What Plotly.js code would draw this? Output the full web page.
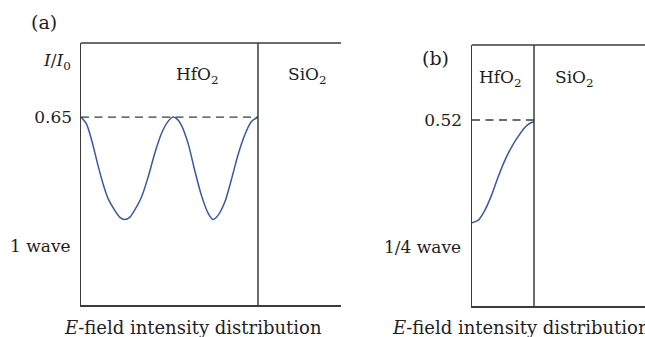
<!DOCTYPE html>
<html>
<head>
<meta charset="utf-8">
<script src="https://cdn.plot.ly/plotly-3.0.1.min.js"></script>
<style>html,body{margin:0;padding:0;background:#fff;}#chart{width:645px;height:337px;}</style>
</head>
<body>
<div id="chart"></div>
<script>
// Panel (a): 1-wave HfO2 layer, position in waves, normalized intensity I/I0
const posA = [0, 0.030, 0.058, 0.096, 0.124, 0.153, 0.190, 0.220, 0.247, 0.275, 0.303, 0.341, 0.379, 0.416, 0.454, 0.492, 0.520, 0.545, 0.567, 0.605, 0.642, 0.680, 0.718, 0.746, 0.774, 0.812, 0.849, 0.887, 0.925, 0.962, 1.0];
const intA = [0.65, 0.627, 0.575, 0.483, 0.420, 0.368, 0.328, 0.303, 0.296, 0.303, 0.328, 0.372, 0.442, 0.523, 0.592, 0.635, 0.65, 0.642, 0.622, 0.559, 0.467, 0.380, 0.318, 0.296, 0.310, 0.355, 0.432, 0.519, 0.588, 0.634, 0.65];
const peakA = 0.65;
const interfaceA = 1.0;

// Panel (b): quarter-wave HfO2 layer
const posB = [0, 0.0255, 0.052, 0.079, 0.106, 0.133, 0.160, 0.187, 0.214, 0.234, 0.25];
const intB = [0.233, 0.240, 0.268, 0.310, 0.362, 0.408, 0.445, 0.475, 0.500, 0.511, 0.515];
const peakB = 0.52;
const interfaceB = 0.25;

const labelsA = {panel: '(a)', wave: '1 wave', left: 'HfO<sub>2</sub>', right: 'SiO<sub>2</sub>'};
const labelsB = {panel: '(b)', wave: '1/4 wave', left: 'HfO<sub>2</sub>', right: 'SiO<sub>2</sub>'};
const yLabel = '<i>I</i>/<i>I</i><sub>0</sub>';
const xLabel = '<i>E</i>-field intensity distribution';

const W = 645, H = 337;
const px = v => v / W;
const py = v => 1 - v / H;

const FONT = 'DejaVu Serif, serif';
const TXT = '#1e1e1e';
const FRAME = '#3c3c3c';
const BLUE = '#3558a8';

const traces = [
  {x: posA, y: intA, xaxis: 'x', yaxis: 'y', mode: 'lines', line: {color: BLUE, width: 1.5, shape: 'spline', smoothing: 0.8}, hoverinfo: 'skip'},
  {x: [0, interfaceA], y: [peakA, peakA], xaxis: 'x', yaxis: 'y', mode: 'lines', line: {color: FRAME, width: 1.3, dash: '8px,5.5px'}, hoverinfo: 'skip'},
  {x: posB, y: intB, xaxis: 'x2', yaxis: 'y2', mode: 'lines', line: {color: BLUE, width: 1.5, shape: 'spline', smoothing: 0.8}, hoverinfo: 'skip'},
  {x: [0, interfaceB], y: [peakB, peakB], xaxis: 'x2', yaxis: 'y2', mode: 'lines', line: {color: FRAME, width: 1.3, dash: '8px,5.5px'}, hoverinfo: 'skip'}
];

const axBase = {showgrid: false, zeroline: false, showline: true, linecolor: FRAME, linewidth: 1.5, automargin: false, fixedrange: true};

function ann(text, x, y, xanchor, size) {
  return {text: text, x: px(x), y: py(y), xref: 'paper', yref: 'paper', xanchor: xanchor || 'center', yanchor: 'middle', showarrow: false, font: {family: FONT, size: size || 17, color: TXT}};
}

const layout = {
  width: W, height: H,
  margin: {l: 0, r: 0, t: 0, b: 0},
  paper_bgcolor: '#fff', plot_bgcolor: 'rgba(0,0,0,0)',
  showlegend: false,
  font: {family: FONT, size: 17, color: TXT},
  xaxis: Object.assign({}, axBase, {domain: [px(81), px(341)], range: [0, 1.469], showticklabels: false, ticks: '', anchor: 'y'}),
  yaxis: Object.assign({}, axBase, {domain: [py(305), py(43)], range: [0, 0.906], tickvals: [peakA], ticktext: [peakA.toFixed(2)], ticks: '', ticklabelstandoff: 4, tickfont: {family: FONT, size: 17, color: TXT}, anchor: 'x'}),
  xaxis2: Object.assign({}, axBase, {domain: [px(472), 1], range: [0, 0.6976], showticklabels: false, ticks: '', anchor: 'y2'}),
  yaxis2: Object.assign({}, axBase, {domain: [py(306), py(45)], range: [0, 0.7297], tickvals: [peakB], ticktext: [peakB.toFixed(2)], ticks: '', ticklabelstandoff: 5, tickfont: {family: FONT, size: 17, color: TXT}, anchor: 'x2'}),
  shapes: [
    {type: 'line', xref: 'x domain', yref: 'y domain', x0: 0, x1: 1, y0: 1, y1: 1, line: {color: FRAME, width: 1.5}},
    {type: 'line', xref: 'x', yref: 'y domain', x0: interfaceA, x1: interfaceA, y0: 0, y1: 1, line: {color: FRAME, width: 1.5}},
    {type: 'line', xref: 'x2 domain', yref: 'y2 domain', x0: 0, x1: 1, y0: 1, y1: 1, line: {color: FRAME, width: 1.5}},
    {type: 'line', xref: 'x2', yref: 'y2 domain', x0: interfaceB, x1: interfaceB, y0: 0, y1: 1, line: {color: FRAME, width: 1.5}}
  ],
  annotations: [
    ann(labelsA.panel, 44, 22, 'center', 19),
    ann(yLabel, 73, 61, 'right'),
    ann(labelsA.wave, 73, 246, 'right'),
    ann(labelsA.left, 197, 75),
    ann(labelsA.right, 307, 75),
    ann(xLabel, 193, 327, 'center', 18),
    ann(labelsB.panel, 435, 58, 'center', 19),
    ann(labelsB.wave, 463, 247, 'right'),
    ann(labelsB.left, 500, 78),
    ann(labelsB.right, 574, 78),
    ann(xLabel, 521, 327, 'center', 18)
  ]
};

Plotly.newPlot('chart', traces, layout, {staticPlot: true, displayModeBar: false});
</script>
</body>
</html>
